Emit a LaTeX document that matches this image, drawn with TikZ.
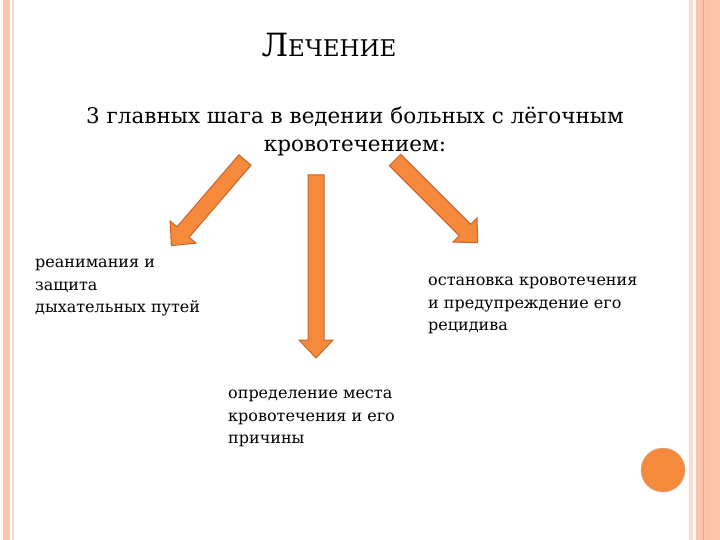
\documentclass[tikz,border=0pt]{standalone}
\usepackage{fontspec}
\setmainfont{DejaVu Serif}
\definecolor{stripe}{HTML}{FBC4AC}
\definecolor{stripeline}{HTML}{F0A080}
\definecolor{arrowfill}{HTML}{F58A3C}
\definecolor{arrowdraw}{HTML}{C8642A}
\tikzset{
  blockarrow/.style={fill=arrowfill, draw=arrowdraw, line width=1pt, line join=miter},
  lbl/.style={align=left, font=\fontsize{16}{22.5}\selectfont, anchor=north west, inner sep=0pt},
}
% #1 start coord, #2 angle, #3 length
\newcommand{\blockarr}[3]{%
  \begin{scope}[shift={#1}, rotate=#2]
    \draw[blockarrow] (0,-8) -- (#3-18,-8) -- (#3-18,-17) -- (#3,0) -- (#3-18,17) -- (#3-18,8) -- (0,8) -- cycle;
  \end{scope}}
\begin{document}
\begin{tikzpicture}[x=1pt,y=1pt]
\useasboundingbox (0,0) rectangle (720,-540);
\fill[white] (0,0) rectangle (720,-540);
% left border
\fill[stripe] (3,0) rectangle (10,-540);
\fill[stripeline!40] (12,0) rectangle (14,-540);
% right border
\fill[stripe!60] (689,0) rectangle (693,-540);
\fill[stripe] (696,0) rectangle (720,-540);
\draw[stripeline, line width=1pt] (703,0) -- (703,-540);
\draw[stripeline!70, line width=0.6pt] (708,0) -- (708,-540);
% title
\node (title) at (329,-45) {\fontsize{32}{36}\selectfont Л\fontsize{23}{26}\selectfont ЕЧЕНИЕ};
\node[align=center, font=\fontsize{21.5}{28}\selectfont] (sub) at (355,-131)
  {3 главных шага в ведении больных с лёгочным\\кровотечением:};
% arrows
\coordinate (s1) at (245,-160);
\coordinate (s2) at (316,-175);
\coordinate (s3) at (395,-160);
\blockarr{(s1)}{229.3}{113}
\blockarr{(s2)}{-90}{183}
\blockarr{(s3)}{-45}{117}
% labels
\node[lbl] (l1) at (35,-259) {реанимания и\\защита\\дыхательных путей};
\node[lbl] (l2) at (228,-390) {определение места\\кровотечения и его\\причины};
\node[lbl] (l3) at (428,-277) {остановка кровотечения\\и предупреждение его\\рецидива};
% circle
\node[circle, fill=arrowfill, draw=arrowfill!80!black!60, minimum size=44pt, inner sep=0pt] (dot) at (663,-470) {};
\end{tikzpicture}
\end{document}
